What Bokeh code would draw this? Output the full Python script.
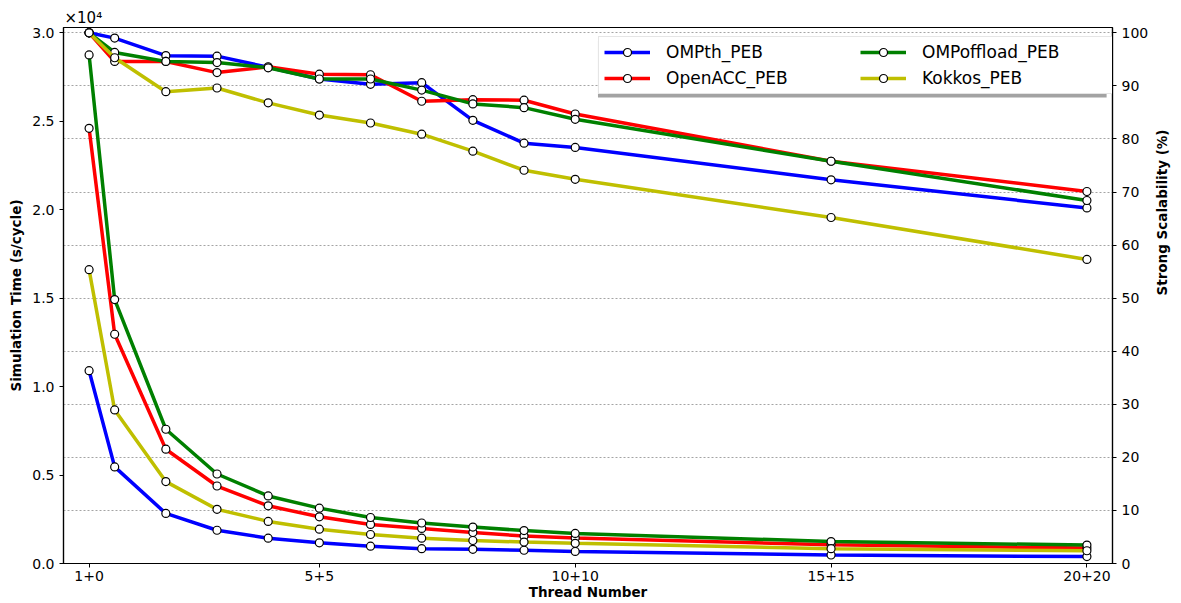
import math
from bokeh.plotting import figure
from bokeh.models import (Range1d, LinearAxis, FixedTicker, Grid, Legend, LegendItem,
                          Title, BoxAnnotation, PrintfTickFormatter)
from bokeh.embed import file_html
from bokeh.resources import INLINE

# Thread counts (total threads) and the tick labels shown on the x axis
threads = [1, 2, 4, 6, 8, 10, 12, 14, 16, 18, 20, 30, 40]
tick_pos = [1, 10, 20, 30, 40]
tick_labels = ["1+0", "5+5", "10+10", "15+15", "20+20"]

# Simulation time per cycle, in units of 1e4 s
time_ompth = [1.09, 0.546, 0.283, 0.188, 0.143, 0.117, 0.098, 0.084, 0.080, 0.075, 0.068, 0.048, 0.039]
time_openacc = [2.46, 1.296, 0.646, 0.438, 0.326, 0.264, 0.221, 0.198, 0.175, 0.155, 0.144, 0.106, 0.087]
time_ompoffload = [2.875, 1.492, 0.759, 0.506, 0.382, 0.313, 0.260, 0.229, 0.206, 0.186, 0.170, 0.124, 0.104]
time_kokkos = [1.661, 0.868, 0.463, 0.306, 0.238, 0.194, 0.164, 0.143, 0.130, 0.121, 0.114, 0.084, 0.072]

# Strong scalability (%)
scal_ompth = [100, 99.0, 95.7, 95.6, 93.5, 91.3, 90.3, 90.6, 83.5, 79.2, 78.4, 72.3, 67.0]
scal_openacc = [100, 94.6, 94.6, 92.5, 93.6, 92.2, 92.1, 87.1, 87.4, 87.3, 84.7, 75.8, 70.1]
scal_ompoffload = [100, 96.3, 94.6, 94.4, 93.4, 91.3, 91.3, 89.2, 86.6, 85.9, 83.7, 75.8, 68.4]
scal_kokkos = [100, 95.3, 88.9, 89.6, 86.8, 84.5, 83.0, 80.9, 77.7, 74.1, 72.4, 65.2, 57.3]

names = ["OMPth_PEB", "OpenACC_PEB", "OMPoffload_PEB", "Kokkos_PEB"]
colors = ["#0000ff", "#ff0000", "#008000", "#bfbf00"]
times = [time_ompth, time_openacc, time_ompoffload, time_kokkos]
scals = [scal_ompth, scal_openacc, scal_ompoffload, scal_kokkos]

FONT = "DejaVu Sans"
X_MAX = 41
Y_MAX = 3.03

p = figure(width=1181, height=603, output_backend="svg", toolbar_location=None,
           x_range=Range1d(0, X_MAX), y_range=Range1d(0, Y_MAX),
           min_border_left=63, min_border_right=62, min_border_top=27, min_border_bottom=40)
p.extra_y_ranges = {"scal": Range1d(0, 101)}
p.background_fill_color = "white"
p.border_fill_color = "white"
p.outline_line_color = "black"
p.outline_line_width = 1.2
p.xgrid.visible = False
p.ygrid.visible = False

# axis multiplier shown above the left axis
p.add_layout(Title(text="×10⁴", align="left", offset=1, standoff=2, text_font=FONT,
                   text_font_size="15px", text_font_style="normal", text_color="black"), "above")

# left axis: simulation time
p.yaxis.ticker = FixedTicker(ticks=[0, 0.5, 1.0, 1.5, 2.0, 2.5, 3.0])
p.yaxis.formatter = PrintfTickFormatter(format="%.1f")
p.yaxis.axis_label = "Simulation Time (s/cycle)"

# bottom axis
p.xaxis.ticker = FixedTicker(ticks=tick_pos)
p.xaxis.major_label_overrides = {t: l for t, l in zip(tick_pos, tick_labels)}
p.xaxis.axis_label = "Thread Number"

# right axis: strong scalability
right_axis = LinearAxis(y_range_name="scal", ticker=FixedTicker(ticks=list(range(0, 101, 10))),
                        axis_label="Strong Scalability (%)")
try:
    right_axis.axis_label_orientation = math.pi / 2
except Exception:
    pass
p.add_layout(right_axis, "right")

for ax in [p.xaxis[0], p.yaxis[0], right_axis]:
    ax.axis_line_color = "black"
    ax.axis_line_width = 1.2
    ax.major_tick_line_color = "black"
    ax.major_tick_in = 0
    ax.major_tick_out = 4
    ax.minor_tick_line_color = None
    ax.major_label_text_font = FONT
    ax.major_label_text_font_size = "14px"
    ax.major_label_text_color = "black"
    ax.axis_label_text_font = FONT
    ax.axis_label_text_font_size = "13.5px"
    ax.axis_label_text_font_style = "bold"
    ax.axis_label_text_color = "black"
    ax.major_label_standoff = 5
    ax.axis_label_standoff = 5

p.xaxis.major_label_standoff = 3
p.xaxis.axis_label_standoff = 0
right_axis.axis_label_standoff = 11

# dashed horizontal grid following the right-hand axis ticks
p.add_layout(Grid(dimension=1, ticker=right_axis.ticker, y_range_name="scal",
                  grid_line_color="#9a9a9a", grid_line_dash="2 2", grid_line_width=0.9))

items = []
for name, color, t in zip(names, colors, times):
    ln = p.line(threads, t, line_color=color, line_width=3.5)
    sc = p.scatter(threads, t, size=8, fill_color="white", line_color="black", line_width=1.2)
    items.append((name, ln, sc))

for color, s in zip(colors, scals):
    p.line(threads, s, line_color=color, line_width=3.5, y_range_name="scal")
    p.scatter(threads, s, size=8, fill_color="white", line_color="black", line_width=1.2,
              y_range_name="scal")

# legend drop shadow
p.add_layout(BoxAnnotation(left=20.89, right=40.77, top=2.957, bottom=2.634,
                           fill_color="#666666", fill_alpha=0.6, line_color=None))

legend = Legend(items=[LegendItem(label=n, renderers=[l, s]) for n, l, s in items],
                ncols=2, location=(535, 469), label_text_font=FONT, label_text_font_size="17px",
                label_text_color="black",
                glyph_width=46, glyph_height=20, label_height=20, label_standoff=16,
                label_width=188, spacing=6, padding=5, margin=0, border_line_color="#cccccc",
                border_line_width=1, background_fill_color="white", background_fill_alpha=1.0)
p.add_layout(legend)

open("out.html", "w").write(file_html(p, INLINE))
